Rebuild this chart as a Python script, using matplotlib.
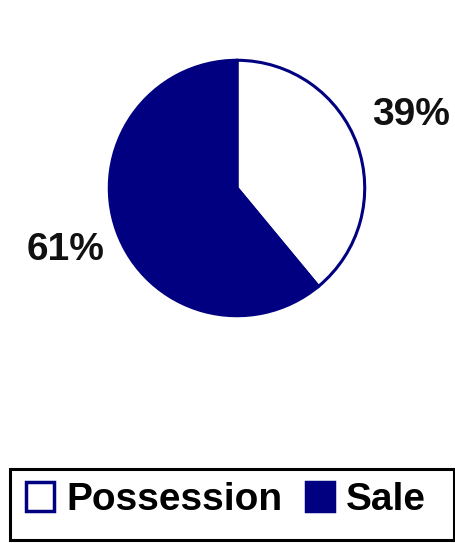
import matplotlib.pyplot as plt
from matplotlib.patches import Patch, Rectangle

plt.rcParams['font.family'] = ['Liberation Sans', 'DejaVu Sans']

labels = ['Possession', 'Sale']
shares = [39, 61]
fills = ['white', '#000080']
edge = '#000080'

W, H = 456, 543
fig = plt.figure(figsize=(W / 100, H / 100), dpi=100)
# pie axes sized to the circle, centred in the upper part
ax = fig.add_axes([108 / W, 1 - 317 / H, 258 / W, 258 / H])
wedges, texts, autotexts = ax.pie(
    shares, colors=fills, startangle=90, counterclock=False,
    autopct='%d%%', pctdistance=1.43, radius=1.0,
    wedgeprops=dict(edgecolor=edge, linewidth=2.2))
for t in autotexts:
    t.set_fontsize(28)
    t.set_fontweight('bold')
    t.set_color('#111111')
# first label sits a little higher than the radial position
x0, y0 = autotexts[0].get_position()
autotexts[0].set_position((x0 + 0.02, y0 + 0.09))
ax.set_xlim(-1.01, 1.01)
ax.set_ylim(-1.01, 1.01)
ax.set_aspect('equal')
ax.axis('off')

# legend box drawn on the figure, legend itself without frame
fig.add_artist(Rectangle((10 / W, 1 - 540 / H), 444 / W, 71 / H,
                         transform=fig.transFigure, facecolor='white',
                         edgecolor='black', linewidth=2.2))
handles = [Patch(facecolor=f, edgecolor=edge, linewidth=2.5) for f in fills]
leg = fig.legend(handles, labels, loc='center', ncol=2,
                 bbox_to_anchor=(226 / W, 1 - 500 / H),
                 prop=dict(size=28, weight='bold'), frameon=False,
                 handlelength=0.72, handleheight=0.78,
                 handletextpad=0.3, columnspacing=0.62, borderpad=0,
                 borderaxespad=0)

fig.savefig('out.png', dpi=100)
